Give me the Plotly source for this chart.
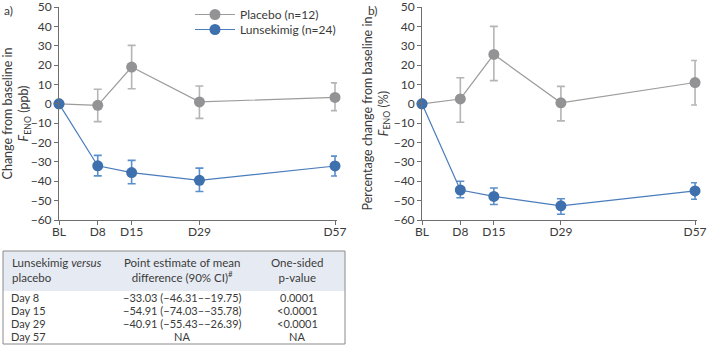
import plotly.graph_objects as go

# ---- data ----
days = [0, 8, 15, 29, 57]
tick_labels = ["BL", "D8", "D15", "D29", "D57"]

# Panel a) change from baseline in FENO (ppb)
a_placebo = [0, -0.8, 19, 1, 3.3]
a_placebo_hi = [0, 7.5, 30.2, 9.2, 10.8]
a_placebo_lo = [0, -9.2, 7.8, -7.5, -3.5]
a_luns = [0, -32, -35.5, -39.5, -32.1]
a_luns_hi = [0, -26.6, -29.2, -33.2, -27]
a_luns_lo = [0, -37.2, -41.3, -45.3, -37.3]

# Panel b) percentage change from baseline in FENO (%)
b_placebo = [0, 2.5, 25.5, 0.5, 11]
b_placebo_hi = [0, 13.5, 40, 9, 22.4]
b_placebo_lo = [0, -9.5, 12, -8.8, -0.6]
b_luns = [0, -44.5, -47.8, -52.7, -45]
b_luns_hi = [0, -40, -43.5, -49, -40.8]
b_luns_lo = [0, -48.5, -52, -57, -49.3]

series_names = ["Placebo (n=12)", "Lunsekimig (n=24)"]
y_titles = ["Change from baseline in<br><i>F</i><sub>ENO</sub> (ppb)",
            "Percentage change from baseline in<br><i>F</i><sub>ENO</sub> (%)"]

# Table
table_header = ["Lunsekimig <i>versus</i><br>placebo",
                "Point estimate of mean<br>difference (90% CI)<sup>#</sup>",
                "One-sided<br>p-value"]
table_days = ["Day 8", "Day 15", "Day 29", "Day 57"]
table_estimates = ["\u221233.03 (\u221246.31\u2013\u221219.75)",
                   "\u221254.91 (\u221274.03\u2013\u221235.78)",
                   "\u221240.91 (\u221255.43\u2013\u221226.39)",
                   "NA"]
table_p = ["0.0001", "<0.0001", "<0.0001", "NA"]

# ---- style ----
W, H = 707, 345
FONT = "Lato"
FS = 12
TXT = "#3a3a3a"
GRAY_M = "#939396"
GRAY_L = "#9c9c9c"
GRAY_E = "#b5b5b5"
BLUE_M = "#3e70ad"
BLUE_L = "#4a7cbd"
BLUE_E = "#5b8fcc"


def px_x(p):
    return p / W


def px_y(p):
    return 1 - p / H


def diffs(v, hi, lo):
    plus = [h - x for h, x in zip(hi, v)]
    minus = [x - l for x, l in zip(v, lo)]
    return plus, minus


fig = go.Figure()


def add_series(xa, ya, v, hi, lo, name, mcol, lcol, ecol, show, legend):
    plus, minus = diffs(v, hi, lo)
    fig.add_trace(go.Scatter(
        x=days, y=v, mode="lines+markers", name=name,
        xaxis=xa, yaxis=ya, showlegend=show, legend=legend,
        line=dict(color=lcol, width=1.2),
        marker=dict(color=mcol, size=11, line=dict(width=0)),
        error_y=dict(type="data", symmetric=False, array=plus, arrayminus=minus,
                     color=ecol, thickness=1.6, width=4),
        cliponaxis=False,
    ))


add_series("x", "y", a_placebo, a_placebo_hi, a_placebo_lo, series_names[0], GRAY_M, GRAY_L, GRAY_E, True, "legend")
add_series("x", "y", a_luns, a_luns_hi, a_luns_lo, series_names[1], BLUE_M, BLUE_L, BLUE_E, True, "legend2")
add_series("x2", "y2", b_placebo, b_placebo_hi, b_placebo_lo, series_names[0], GRAY_M, GRAY_L, GRAY_E, False, "legend")
add_series("x2", "y2", b_luns, b_luns_hi, b_luns_lo, series_names[1], BLUE_M, BLUE_L, BLUE_E, False, "legend2")

axis_common = dict(showgrid=False, zeroline=False, showline=True, linecolor="#6e6e6e",
                   linewidth=1, ticks="outside", ticklen=4, tickcolor="#6e6e6e",
                   ticklabeloverflow="allow", automargin=False,
                   tickfont=dict(family=FONT, size=FS, color=TXT))

xcommon = dict(axis_common, range=[0, 57.41], tickmode="array", tickvals=days,
               ticktext=tick_labels, ticklabelstandoff=-3)
ycommon = dict(axis_common, range=[-60, 50], tickmode="array",
               tickvals=[-60, -50, -40, -30, -20, -10, 0, 10, 20, 30, 40, 50],
               ticktext=["\u221260", "\u221250", "\u221240", "\u221230", "\u221220", "\u221210",
                         "0", "10", "20", "30", "40", "50"],
               domain=[px_y(220), px_y(7)])

leg_common = dict(xanchor="left", yanchor="top", bgcolor="rgba(0,0,0,0)",
                  font=dict(family=FONT, size=FS, color=TXT), itemwidth=40, borderwidth=0)

TF = 12.5
fig.update_layout(
    width=W, height=H, autosize=False,
    margin=dict(l=0, r=0, t=0, b=0, pad=0),
    paper_bgcolor="white", plot_bgcolor="white",
    font=dict(family=FONT, size=FS, color=TXT),
    xaxis=dict(xcommon, domain=[px_x(59), px_x(337)], anchor="y"),
    yaxis=dict(ycommon, anchor="x",
               title=dict(text=y_titles[0], font=dict(size=TF, color=TXT), standoff=6)),
    xaxis2=dict(xcommon, domain=[px_x(422), px_x(697)], anchor="y2"),
    yaxis2=dict(ycommon, anchor="x2",
                title=dict(text=y_titles[1], font=dict(size=TF, color=TXT), standoff=2)),
    legend=dict(leg_common, x=px_x(190), y=1.0),
    legend2=dict(leg_common, x=px_x(190), y=px_y(15)),
    showlegend=True,
)

ann = []
# panel labels
ann.append(dict(x=px_x(2), y=px_y(11), text="a)", showarrow=False, xanchor="left", yanchor="middle"))
ann.append(dict(x=px_x(366), y=px_y(11), text="b)", showarrow=False, xanchor="left", yanchor="middle"))

# table
TL, TR, TT, TB = 3, 345, 251, 344
HB = 291
shapes = [
    dict(type="rect", xref="paper", yref="paper", x0=px_x(TL), x1=px_x(TR), y0=px_y(HB), y1=px_y(TT),
         fillcolor="#e6ebf3", line=dict(width=0), layer="below"),
    dict(type="rect", xref="paper", yref="paper", x0=px_x(TL), x1=px_x(TR), y0=px_y(TB), y1=px_y(TT),
         fillcolor="rgba(0,0,0,0)", line=dict(color="#8a8a8a", width=1)),
]
col_x = [10, 182, 297]
HF = 11.5
for cx, txt, xa, al in zip(col_x, table_header, ["left", "center", "center"], ["left", "center", "center"]):
    ann.append(dict(x=px_x(cx), y=px_y(270), text=txt, showarrow=False,
                    xanchor=xa, yanchor="middle", align=al, font=dict(size=HF)))
RF = 11
row_y = [297.2, 310.4, 323.6, 336.8]
for d, e, p, ry in zip(table_days, table_estimates, table_p, row_y):
    ann.append(dict(x=px_x(col_x[0]), y=px_y(ry), text=d, showarrow=False, xanchor="left",
                    yanchor="middle", font=dict(size=RF), borderpad=0))
    ann.append(dict(x=px_x(col_x[1]), y=px_y(ry), text=e, showarrow=False, xanchor="center",
                    yanchor="middle", font=dict(size=RF), borderpad=0))
    ann.append(dict(x=px_x(col_x[2]), y=px_y(ry), text=p, showarrow=False, xanchor="center",
                    yanchor="middle", font=dict(size=RF), borderpad=0))

for a in ann:
    a.setdefault("xref", "paper")
    a.setdefault("yref", "paper")
fig.update_layout(annotations=ann, shapes=shapes)

fig.write_html("out.html", config={"displayModeBar": False},
               post_script="document.body.style.margin='0';document.body.style.padding='0';"
                           "document.body.style.overflow='hidden';")
